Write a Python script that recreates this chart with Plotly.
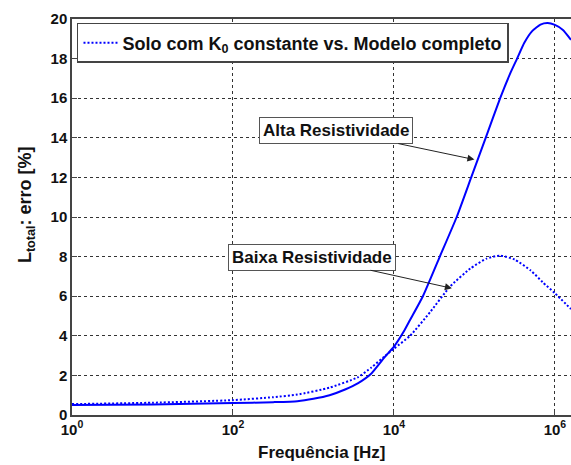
import numpy as np
import plotly.graph_objects as go

alta_logf = [0, 1, 2, 2.5, 2.8, 3.0, 3.2, 3.4, 3.55, 3.72, 3.88, 4.0, 4.12, 4.2,
             4.36, 4.57, 4.78, 4.96, 5.14, 5.32, 5.45, 5.53, 5.62, 5.72, 5.82, 5.91,
             6.0, 6.1, 6.2]
alta_err = [0.5, 0.53, 0.6, 0.65, 0.7, 0.82, 1.0, 1.3, 1.6, 2.1, 2.9, 3.45, 4.2, 4.8,
            6.0, 8.0, 10.0, 12.0, 14.0, 16.0, 17.3, 18.0, 18.8, 19.4, 19.72, 19.8,
            19.7, 19.45, 18.95]

baixa_logf = [0, 1, 2, 2.5, 2.8, 3.2, 3.55, 3.72, 3.88, 4.0, 4.2, 4.45, 4.7, 4.95,
              5.15, 5.32, 5.5, 5.7, 5.85, 6.0, 6.2]
baixa_err = [0.55, 0.62, 0.75, 0.9, 1.03, 1.38, 1.9, 2.4, 2.95, 3.35, 4.0, 5.2, 6.5, 7.4,
             7.9, 8.05, 7.85, 7.3, 6.7, 6.15, 5.35]

xtick_vals = [1, 1e2, 1e4, 1e6]
xtick_text = ["10<sup>0</sup>", "10<sup>2</sup>", "10<sup>4</sup>", "10<sup>6</sup>"]
ytick_vals = list(range(0, 21, 2))

# annotation arrow heads (log10 frequency, error)
alta_head = (5.0, 12.9)
baixa_head = (4.72, 6.4)

font_main = dict(family="Liberation Sans, Arial, sans-serif", size=15, color="#111", weight="bold")

fig = go.Figure()
fig.add_trace(go.Scatter(x=np.power(10.0, alta_logf), y=alta_err, mode="lines",
                         line=dict(color="#0000ff", width=2, shape="spline", smoothing=0.5),
                         showlegend=False))
fig.add_trace(go.Scatter(x=np.power(10.0, baixa_logf), y=baixa_err, mode="lines",
                         line=dict(color="#0000ff", width=2, dash="2px,2px", shape="spline", smoothing=0.5),
                         name="Solo com K<sub>0</sub> constante vs. Modelo completo"))

box = dict(showarrow=True, arrowhead=2, arrowsize=1.4, arrowwidth=1, arrowcolor="#222",
           bgcolor="white", bordercolor="#555", borderwidth=1, borderpad=3,
           font=dict(font_main, size=17))
fig.add_annotation(x=alta_head[0], y=alta_head[1], text="Alta Resistividade",
                   ax=-138, ay=-29, **box)
fig.add_annotation(x=baixa_head[0], y=baixa_head[1], text="Baixa Resistividade",
                   ax=-140, ay=-31, **box)

# axis titles as annotations for exact placement
fig.add_annotation(x=0.5, y=0, xref="paper", yref="paper", yshift=-37, yanchor="middle",
                   text="Frequência [Hz]", showarrow=False, font=dict(font_main, size=17))
fig.add_annotation(x=0, y=0.53, xref="paper", yref="paper", xshift=-46, xanchor="center",
                   text="L<sub>total</sub>: erro [%]", textangle=-90, showarrow=False,
                   font=dict(font_main, size=18))

fig.update_xaxes(type="log", range=[0, 6.2], tickvals=xtick_vals, ticktext=xtick_text,
                 showgrid=True, gridcolor="#333", griddash="3px,3px", gridwidth=1,
                 showline=True, linecolor="#444", linewidth=1.5, mirror=True,
                 ticks="inside", ticklen=5, tickcolor="#444", automargin=False,
                 tickfont=font_main, zeroline=False)
fig.update_yaxes(range=[0, 20], tickvals=ytick_vals,
                 showgrid=True, gridcolor="#333", griddash="3px,3px", gridwidth=1,
                 showline=True, linecolor="#444", linewidth=1.5,
                 ticks="inside", ticklen=5, tickcolor="#444", automargin=False,
                 tickfont=font_main, zeroline=False)

fig.update_layout(
    width=571, height=465,
    margin=dict(l=72, r=0, t=19, b=50),
    plot_bgcolor="white", paper_bgcolor="white",
    font=font_main,
    legend=dict(x=0.01, y=0.99, xanchor="left", yanchor="top",
                bgcolor="white", bordercolor="#444", borderwidth=1.5,
                font=dict(font_main, size=18), itemwidth=34),
)

# drop the default page margin so the figure fills the window exactly
fig.write_html("out.html", config={"displayModeBar": False},
               post_script="document.body.style.margin='0';document.body.style.overflow='hidden';")
